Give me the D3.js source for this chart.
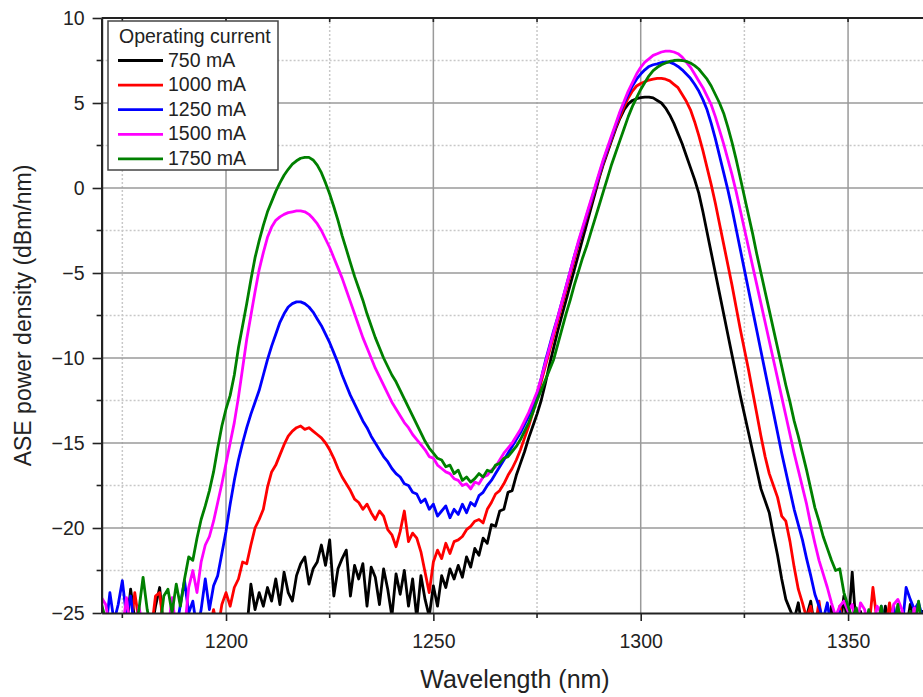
<!DOCTYPE html>
<html>
<head>
<meta charset="utf-8">
<script src="https://cdn.jsdelivr.net/npm/d3@7/dist/d3.min.js"></script>
<style>
  html, body { margin: 0; padding: 0; background: #fff; }
  svg { display: block; font-family: "Liberation Sans", Arial, sans-serif; }
</style>
</head>
<body>
<div id="chart"></div>
<script>
// ASE spectra, 1 nm grid from 1170 to 1370 nm
const wavelengths = d3.range(1170, 1371);

const legendTitle = "Operating current";
const currents = ["750 mA", "1000 mA", "1250 mA", "1500 mA", "1750 mA"];
const colors = ["#000000", "#ff0000", "#0000ff", "#ff00ff", "#008000"];

const xTicks = [1200, 1250, 1300, 1350];
const xMinor = [1175, 1225, 1275, 1325];
const yTicks = [10, 5, 0, -5, -10, -15, -20, -25];
const yMinor = [7.5, 2.5, -2.5, -7.5, -12.5, -17.5, -22.5];

const ase750 = [
  -26, -26, -26, -26, -26, -26, -26, -23.6, -25.4, -26,
  -26, -26, -26, -24.6, -23.5, -26, -26, -26, -26, -26,
  -26, -26, -26, -26, -26, -26, -26, -26, -26, -26,
  -26, -26, -26, -26, -26, -26, -23.3, -24.8, -23.8, -24.6,
  -23.5, -24.3, -23.0, -24.5, -22.6, -23.8, -24.3, -22.8, -22.1, -21.7,
  -23.3, -22.4, -22.0, -21.0, -22.2, -20.7, -24.0, -22.4, -21.8, -21.3,
  -24.0, -22.2, -23.0, -22.1, -24.6, -22.3, -22.9, -24.5, -22.4, -23.6,
  -25.2, -22.7, -23.9, -22.5, -24.6, -23.0, -25.3, -22.8, -24.2, -25.2,
  -23.4, -24.6, -22.8, -23.5, -22.4, -23.0, -22.2, -22.9, -21.7, -22.3,
  -21.2, -21.6, -20.6, -20.9, -19.8, -19.9, -19.0, -18.9, -17.9, -17.8,
  -16.9, -16.2, -15.5, -14.7, -14.0, -13.3, -12.5, -11.5, -10.4, -9.4,
  -8.4, -7.5, -6.6, -5.7, -4.8, -3.9, -3.0, -2.1, -1.2, -0.3,
  0.6, 1.4, 2.1, 2.8, 3.5, 4.1, 4.6, 4.95, 5.15, 5.25,
  5.32, 5.35, 5.35, 5.3, 5.15, 5.0, 4.7, 4.3, 3.8, 3.2,
  2.6, 1.9, 1.2, 0.5, -0.3, -1.4, -2.6, -3.8, -5.0, -6.2,
  -7.4, -8.6, -9.8, -11.0, -12.2, -13.3, -14.4, -15.5, -16.6, -17.7,
  -18.4, -19.1, -20.4, -21.6, -23.0, -24.2, -24.8, -25.4, -24.4, -26,
  -25.2, -24.3, -26, -24.8, -26, -26, -24.6, -26, -26, -24.0,
  -26, -22.6, -26, -24.9, -26, -26, -26, -26, -26, -24.6,
  -26, -26, -26, -26, -26, -24.5, -26, -26, -24.9, -26,
  -26
];

const ase1000 = [
  -26, -26, -26, -26, -26, -26, -26, -26, -23.8, -25.5,
  -26, -26, -26, -24.0, -23.8, -26, -26, -26, -26, -26,
  -26, -26, -26, -26, -26, -26, -26, -24.8, -26, -24.5,
  -23.8, -24.6, -23.5, -23.0, -22.0, -22.1, -21.0, -20.0, -19.5, -18.9,
  -17.6, -16.7, -16.3, -15.7, -15.1, -14.6, -14.3, -14.1, -14.0, -14.2,
  -14.1, -14.3, -14.5, -14.7, -15.0, -15.4, -15.9, -16.5, -17.0, -17.4,
  -17.8, -18.3, -18.5, -18.9, -18.6, -19.1, -19.5, -19.0, -19.3, -20.1,
  -20.4, -21.1, -20.2, -19.0, -20.8, -20.3, -20.6, -21.4, -22.6, -23.8,
  -22.0, -21.3, -21.8, -20.9, -21.5, -20.8, -20.7, -20.5, -20.1, -19.9,
  -19.6, -19.5, -19.7, -18.9, -18.5, -18.0, -17.8, -17.4, -16.9, -16.5,
  -16.0, -15.4, -14.7, -14.0, -13.2, -12.3, -11.4, -10.5, -9.6, -8.7,
  -7.8, -6.9, -6.0, -5.1, -4.2, -3.3, -2.5, -1.7, -0.9, -0.1,
  0.7, 1.5, 2.2, 2.9, 3.6, 4.2, 4.8, 5.3, 5.7, 6.0,
  6.15, 6.25, 6.35, 6.4, 6.45, 6.45, 6.4, 6.3, 6.1, 5.9,
  5.5, 5.1, 4.6, 3.9, 3.1, 2.2, 1.2, 0.2, -0.9, -2.1,
  -3.3, -4.5, -5.7, -7.0, -8.3, -9.5, -10.7, -12.0, -13.3, -14.6,
  -15.8, -16.8, -17.5, -18.2, -19.3, -19.6, -20.8, -22.3, -23.6, -24.4,
  -25.3, -24.6, -26, -24.3, -26, -26, -26, -26, -24.6, -26,
  -26, -26, -25.0, -26, -26, -26, -23.5, -25.5, -26, -26,
  -24.4, -26, -26, -24.9, -26, -26, -26, -26, -26, -26,
  -26
];

const ase1250 = [
  -26, -26, -23.8, -25.5, -24.5, -23.1, -25.2, -24.0, -26, -26,
  -26, -26, -26, -26, -26, -26, -26, -26, -26, -24.5,
  -23.1, -25.0, -24.3, -26, -24.8, -23.0, -24.8, -23.4, -22.8, -21.5,
  -20.2, -18.6, -17.2, -16.0, -15.0, -14.1, -13.3, -12.6, -11.9, -11.0,
  -10.1, -9.3, -8.6, -7.9, -7.4, -7.0, -6.8, -6.7, -6.7, -6.8,
  -7.0, -7.3, -7.7, -8.1, -8.6, -9.1, -9.7, -10.3, -11.0, -11.6,
  -12.2, -12.7, -13.2, -13.7, -14.1, -14.6, -15.0, -15.4, -15.8, -16.1,
  -16.5, -16.8, -17.0, -17.4, -17.5, -17.9, -18.0, -18.5, -18.3, -18.9,
  -18.6, -19.3, -19.0, -18.7, -19.4, -18.9, -19.2, -18.6, -19.1, -18.5,
  -18.7, -18.1, -17.9, -17.5, -17.2, -16.8, -16.4, -16.0, -15.6, -15.2,
  -14.8, -14.4, -13.9, -13.4, -12.8, -12.1, -11.2, -10.2, -9.3, -8.4,
  -7.6, -6.7, -5.8, -4.9, -4.0, -3.2, -2.4, -1.6, -0.8, 0.0,
  0.8, 1.6, 2.3, 3.0, 3.7, 4.4, 5.0, 5.5, 6.0, 6.4,
  6.7, 6.95, 7.15, 7.25, 7.3, 7.38, 7.42, 7.4, 7.3, 7.15,
  6.95, 6.7, 6.45, 6.1, 5.7, 5.2, 4.6, 3.8, 2.9, 1.9,
  0.9, -0.1, -1.2, -2.4, -3.6, -4.8, -6.0, -7.2, -8.4, -9.6,
  -10.8, -12.0, -13.2, -14.4, -15.6, -16.7, -17.8, -18.9, -19.8, -20.7,
  -21.8, -22.8, -23.9, -24.6, -25.4, -24.4, -26, -26, -24.9, -26,
  -26, -26, -24.9, -26, -26, -26, -26, -26, -24.6, -26,
  -26, -24.6, -26, -26, -23.5, -24.2, -24.8, -24.4, -25.3, -24.6,
  -24.8
];

const ase1500 = [
  -24.1, -24.5, -26, -26, -26, -26, -24.1, -26, -26, -24.6,
  -26, -26, -26, -26, -26, -26, -26, -24.1, -26, -26,
  -26, -23.5, -22.5, -23.8, -22.0, -21.0, -20.5, -19.6, -18.5, -17.4,
  -16.2, -15.0, -13.8, -12.3, -10.6, -8.9, -7.5, -6.1, -4.8, -3.8,
  -2.9, -2.3, -1.9, -1.7, -1.55, -1.45, -1.4, -1.35, -1.35, -1.4,
  -1.55, -1.8, -2.1, -2.5, -3.0, -3.5, -4.1, -4.7, -5.3, -6.0,
  -6.7, -7.4, -8.1, -8.8, -9.4, -10.0, -10.6, -11.1, -11.6, -12.1,
  -12.6, -13.0, -13.4, -13.8, -14.1, -14.5, -14.8, -15.1, -15.4, -15.8,
  -15.9, -16.3, -16.5, -16.7, -16.8, -17.1, -17.2, -17.5, -17.4, -17.7,
  -17.3, -17.4, -17.0, -16.9, -16.6, -16.4, -16.0, -15.6, -15.3, -15.0,
  -14.6, -14.2, -13.7, -13.2, -12.6, -12.0, -11.2, -10.3, -9.4, -8.5,
  -7.6, -6.7, -5.8, -4.9, -4.0, -3.1, -2.3, -1.5, -0.7, 0.1,
  0.9, 1.7, 2.4, 3.1, 3.8, 4.5, 5.1, 5.7, 6.2, 6.7,
  7.1, 7.4, 7.6, 7.8, 7.9, 8.0, 8.05, 8.05, 8.0, 7.9,
  7.7, 7.4, 7.1, 6.7, 6.3, 5.9, 5.4, 4.9, 4.2, 3.4,
  2.6, 1.7, 0.8, -0.2, -1.3, -2.4, -3.5, -4.6, -5.7, -6.8,
  -7.9, -9.0, -10.1, -11.2, -12.3, -13.4, -14.5, -15.6, -16.6, -17.6,
  -18.6, -19.8, -20.9, -21.9, -22.7, -23.5, -24.4, -25.2, -24.6, -24.3,
  -24.9, -24.5, -26, -24.4, -24.8, -26, -26, -24.6, -25.0, -26,
  -26, -24.5, -24.2, -24.8, -26, -26, -24.7, -26, -26, -24.4,
  -26
];

const ase1750 = [
  -24.5, -25.4, -26, -26, -26, -26, -26, -26, -26, -24.8,
  -22.9, -24.8, -26, -26, -26, -24.0, -23.6, -25.0, -23.3, -24.6,
  -23.0, -21.7, -21.9, -20.6, -19.5, -18.7, -17.8, -16.7, -15.3, -14.0,
  -13.0, -12.2, -11.0, -9.4, -8.1, -6.8, -5.4, -4.1, -3.1, -2.2,
  -1.4, -0.8, -0.2, 0.3, 0.75, 1.1, 1.4, 1.6, 1.75, 1.8,
  1.8, 1.65, 1.35, 0.9, 0.3, -0.35, -1.1, -1.9, -2.8, -3.6,
  -4.4, -5.2, -5.9, -6.6, -7.4, -8.1, -8.8, -9.4, -10.0, -10.5,
  -11.0, -11.4, -11.9, -12.4, -12.9, -13.4, -13.9, -14.4, -14.9, -15.3,
  -15.6, -15.9, -16.0, -16.4, -16.3, -16.8, -16.6, -17.2, -17.0, -17.3,
  -17.1, -16.8, -17.0, -16.6, -16.7, -16.3, -16.2, -15.9, -15.8, -15.5,
  -15.2, -14.8, -14.3, -13.8, -13.2, -12.5, -11.9, -11.3, -10.7, -10.1,
  -9.2, -8.3, -7.4, -6.6, -5.7, -4.9, -4.1, -3.4, -2.6, -1.8,
  -1.0, -0.2, 0.6, 1.4, 2.1, 2.8, 3.5, 4.2, 4.8, 5.3,
  5.8, 6.2, 6.6, 6.9, 7.1, 7.25, 7.35, 7.45, 7.5, 7.52,
  7.5, 7.45, 7.35, 7.2, 7.0, 6.7, 6.4, 6.0, 5.5, 5.0,
  4.4, 3.6, 2.7, 1.7, 0.6, -0.5, -1.6, -2.7, -3.9, -5.0,
  -6.1, -7.2, -8.3, -9.4, -10.5, -11.6, -12.6, -13.7, -14.6, -15.6,
  -16.6, -17.7, -18.8, -19.6, -20.5, -21.2, -21.9, -22.5, -22.4, -23.8,
  -24.6, -25.3, -24.7, -26, -26, -24.8, -26, -26, -24.6, -26,
  -26, -26, -24.5, -26, -26, -24.9, -26, -24.3, -26, -26,
  -24.6
];

const allSeries = [ase750, ase1000, ase1250, ase1500, ase1750];

function drawChart(containerId) {
  const config = {
    width: 923,
    height: 697,
    // plot box in page pixels; the right edge runs past the window like the figure
    left: 101.6,
    right: 931,
    top: 18,
    bottom: 613
  };

  const svg = d3.select("#" + containerId).append("svg")
    .attr("width", config.width)
    .attr("height", config.height);

  const x = d3.scaleLinear().domain([1170, 1370]).range([config.left, config.right]);
  const y = d3.scaleLinear().domain([-25, 10]).range([config.bottom, config.top]);

  // Grid: dotted minor, solid major
  const grid = svg.append("g").attr("class", "grid");
  grid.selectAll("line.xminor").data(xMinor).join("line")
    .attr("x1", d => x(d)).attr("x2", d => x(d))
    .attr("y1", config.top).attr("y2", config.bottom)
    .attr("stroke", "#c8c8c8").attr("stroke-width", 1.5)
    .attr("stroke-dasharray", "2,2");
  grid.selectAll("line.yminor").data(yMinor).join("line")
    .attr("x1", config.left).attr("x2", config.right)
    .attr("y1", d => y(d)).attr("y2", d => y(d))
    .attr("stroke", "#c8c8c8").attr("stroke-width", 1.5)
    .attr("stroke-dasharray", "2,2");
  grid.selectAll("line.xmajor").data(xTicks).join("line")
    .attr("x1", d => x(d)).attr("x2", d => x(d))
    .attr("y1", config.top).attr("y2", config.bottom)
    .attr("stroke", "#9a9a9a").attr("stroke-width", 1.5);
  grid.selectAll("line.ymajor").data(yTicks.slice(1, -1)).join("line")
    .attr("x1", config.left).attr("x2", config.right)
    .attr("y1", d => y(d)).attr("y2", d => y(d))
    .attr("stroke", "#9a9a9a").attr("stroke-width", 1.5);

  // Clip the spectra to the plot box (the noise floor sits below -25)
  svg.append("clipPath").attr("id", "plot-clip")
    .append("rect")
    .attr("x", config.left).attr("y", config.top)
    .attr("width", config.right - config.left)
    .attr("height", config.bottom - config.top);

  const line = d3.line()
    .x((d, i) => x(wavelengths[i]))
    .y(d => y(d));

  svg.append("g").attr("clip-path", "url(#plot-clip)")
    .selectAll("path").data(allSeries).join("path")
    .attr("d", line)
    .attr("fill", "none")
    .attr("stroke", (d, i) => colors[i])
    .attr("stroke-width", 2.8)
    .attr("stroke-linejoin", "round");

  // Axes
  const axisFont = 19.5;
  const xAxis = svg.append("g")
    .attr("transform", `translate(0,${config.bottom})`)
    .call(d3.axisBottom(x).tickValues(xTicks).tickFormat(d3.format("d"))
      .tickSize(8).tickSizeOuter(0).tickPadding(13));
  const yAxis = svg.append("g")
    .attr("transform", `translate(${config.left},0)`)
    .call(d3.axisLeft(y).tickValues(yTicks).tickFormat(d3.format("d"))
      .tickSize(9).tickSizeOuter(0).tickPadding(8));

  [xAxis, yAxis].forEach(a => {
    a.select(".domain").attr("stroke", "#222").attr("stroke-width", 2.2);
    a.selectAll(".tick line").attr("stroke", "#222").attr("stroke-width", 1.6);
    a.selectAll(".tick text")
      .attr("fill", "#222")
      .style("font-size", axisFont + "px")
      .style("font-family", "'Liberation Sans', Arial, sans-serif");
  });

  // Minor ticks
  svg.append("g").selectAll("line").data(xMinor).join("line")
    .attr("x1", d => x(d)).attr("x2", d => x(d))
    .attr("y1", config.bottom).attr("y2", config.bottom + 5)
    .attr("stroke", "#222").attr("stroke-width", 1.6);
  svg.append("g").selectAll("line").data(yMinor).join("line")
    .attr("x1", config.left - 5).attr("x2", config.left)
    .attr("y1", d => y(d)).attr("y2", d => y(d))
    .attr("stroke", "#222").attr("stroke-width", 1.6);

  // Top frame with small inward ticks
  svg.append("line")
    .attr("x1", config.left).attr("x2", config.right)
    .attr("y1", config.top).attr("y2", config.top)
    .attr("stroke", "#222").attr("stroke-width", 2.2);
  svg.append("g").selectAll("line").data(xTicks.concat(xMinor)).join("line")
    .attr("x1", d => x(d)).attr("x2", d => x(d))
    .attr("y1", config.top).attr("y2", config.top + 4)
    .attr("stroke", "#222").attr("stroke-width", 1.6);

  // Axis titles
  svg.append("text")
    .attr("x", 515)
    .attr("y", 688)
    .attr("text-anchor", "middle")
    .attr("fill", "#222")
    .style("font-size", "25px")
    .text("Wavelength (nm)");

  svg.append("text")
    .attr("transform", `translate(31,${(config.top + config.bottom) / 2}) rotate(-90)`)
    .attr("text-anchor", "middle")
    .attr("fill", "#222")
    .style("font-size", "23px")
    .text("ASE power density (dBm/nm)");

  // Legend
  const legend = svg.append("g").attr("class", "legend");
  legend.append("rect")
    .attr("x", 108).attr("y", 21)
    .attr("width", 170).attr("height", 149)
    .attr("fill", "#fff")
    .attr("stroke", "#444").attr("stroke-width", 1.5);
  legend.append("text")
    .attr("x", 119).attr("y", 43)
    .attr("fill", "#222")
    .style("font-size", "19.5px")
    .text(legendTitle);

  const rows = legend.selectAll("g.row").data(currents).join("g")
    .attr("class", "row")
    .attr("transform", (d, i) => `translate(0,${66.5 + i * 24.6})`);
  rows.append("line")
    .attr("x1", 118).attr("x2", 163)
    .attr("y1", -6).attr("y2", -6)
    .attr("stroke", (d, i) => colors[i])
    .attr("stroke-width", 2.8);
  rows.append("text")
    .attr("x", 168).attr("y", 0)
    .attr("fill", "#222")
    .style("font-size", "19.5px")
    .text(d => d);
}

drawChart("chart");
</script>
</body>
</html>
